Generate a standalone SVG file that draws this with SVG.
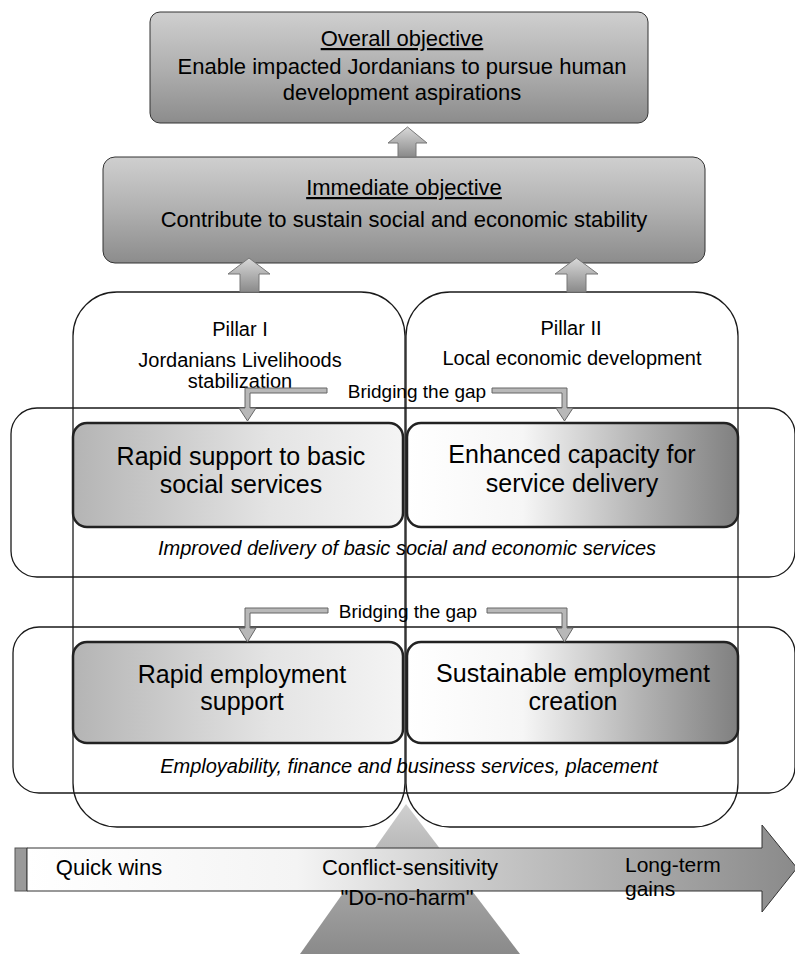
<svg xmlns="http://www.w3.org/2000/svg" width="795" height="954" viewBox="0 0 795 954">
<defs>
<linearGradient id="gObj" x1="0" y1="0" x2="0" y2="1">
<stop offset="0" stop-color="#cfcfcf"/><stop offset="0.5" stop-color="#b0b0b0"/><stop offset="1" stop-color="#8c8c8c"/>
</linearGradient>
<linearGradient id="gLeft" x1="0" y1="0" x2="1" y2="0">
<stop offset="0" stop-color="#b4b4b4"/><stop offset="0.6" stop-color="#e4e4e4"/><stop offset="1" stop-color="#f4f4f4"/>
</linearGradient>
<linearGradient id="gRight" x1="0" y1="0" x2="1" y2="0">
<stop offset="0" stop-color="#ffffff"/><stop offset="0.35" stop-color="#f6f6f6"/><stop offset="0.7" stop-color="#b4b4b4"/><stop offset="1" stop-color="#808080"/>
</linearGradient>
<linearGradient id="gArrowUp" x1="0" y1="0" x2="0" y2="1">
<stop offset="0" stop-color="#d8d8d8"/><stop offset="1" stop-color="#8a8a8a"/>
</linearGradient>
<linearGradient id="gTime" x1="0" y1="0" x2="1" y2="0">
<stop offset="0" stop-color="#ffffff"/><stop offset="0.35" stop-color="#f4f4f4"/><stop offset="0.55" stop-color="#cfcfcf"/><stop offset="1" stop-color="#8a8a8a"/>
</linearGradient>
<linearGradient id="gTri" x1="0" y1="0" x2="0" y2="1">
<stop offset="0" stop-color="#d0d0d0"/><stop offset="0.5" stop-color="#a8a8a8"/><stop offset="1" stop-color="#8a8a8a"/>
</linearGradient>
</defs>
<style>
text{font-family:"Liberation Sans",Arial,sans-serif;fill:#000;text-anchor:middle}
.h{font-size:22px}
.u{text-decoration:underline}
.p{font-size:20px}
.b{font-size:25px}
.i{font-size:20px;font-style:italic}
.g{font-size:19px}
.t{font-size:22px}
.lt{font-size:21px;text-anchor:start}
.frame{fill:none;stroke:#1a1a1a;stroke-width:1.3}
.inner{stroke:#222;stroke-width:2.5}
.arr{fill:url(#gArrowUp);stroke:#777;stroke-width:1}
.br{fill:#b8b8b8;stroke:#666;stroke-width:1}
</style>

<g id="triangle">
<polygon points="406,804 300,954 520,954" fill="url(#gTri)"/>
</g>

<g id="timeline">
<rect x="15" y="848" width="12" height="43" fill="#9a9a9a" stroke="#555" stroke-width="1"/>
<path d="M27,848 L762,848 L762,825 L797,868 L762,912 L762,891 L27,891 Z" fill="url(#gTime)" stroke="#333" stroke-width="1"/>
<text class="t" x="109" y="875">Quick wins</text>
<text class="t" x="410" y="875">Conflict-sensitivity</text>
<text class="t" x="407" y="905">"Do-no-harm"</text>
<text class="lt" x="625" y="872">Long-term</text>
<text class="lt" x="625" y="896">gains</text>
</g>

<g id="overall-objective">
<rect x="150" y="12" width="498" height="111" rx="10" fill="url(#gObj)" stroke="#333" stroke-width="1"/>
<text class="h u" x="402" y="46">Overall objective</text>
<text class="h" x="402" y="74">Enable impacted Jordanians to pursue human</text>
<text class="h" x="402" y="100">development aspirations</text>
</g>

<g id="immediate-objective">
<rect x="103" y="157" width="602" height="106" rx="12" fill="url(#gObj)" stroke="#333" stroke-width="1"/>
<text class="h u" x="404" y="195">Immediate objective</text>
<text class="h" x="404" y="227">Contribute to sustain social and economic stability</text>
</g>

<g id="band-services">
<rect class="frame" x="11" y="408" width="784" height="169" rx="26"/>
</g>
<g id="band-employment">
<rect class="frame" x="13" y="627" width="782" height="166" rx="26"/>
</g>

<g id="pillar-1">
<rect class="frame" x="73" y="292" width="332" height="535" rx="44"/>
<text class="p" x="240" y="336">Pillar I</text>
<text class="p" x="240" y="367">Jordanians Livelihoods</text>
<text class="p" x="240" y="388">stabilization</text>
</g>
<g id="pillar-2">
<rect class="frame" x="406" y="292" width="332" height="535" rx="44"/>
<text class="p" x="571" y="335">Pillar II</text>
<text class="p" x="572" y="365">Local economic development</text>
</g>

<g id="rapid-support">
<rect class="inner" x="73" y="423" width="330" height="104" rx="14" fill="url(#gLeft)"/>
<text class="b" x="241" y="465">Rapid support to basic</text>
<text class="b" x="241" y="493">social services</text>
</g>
<g id="enhanced-capacity">
<rect class="inner" x="407" y="423" width="331" height="104" rx="14" fill="url(#gRight)"/>
<text class="b" x="572" y="463">Enhanced capacity for</text>
<text class="b" x="572" y="492">service delivery</text>
</g>
<text class="i" x="407" y="555">Improved delivery of basic social and economic services</text>

<g id="rapid-employment">
<rect class="inner" x="73" y="642" width="330" height="101" rx="14" fill="url(#gLeft)"/>
<text class="b" x="242" y="683">Rapid employment</text>
<text class="b" x="242" y="710">support</text>
</g>
<g id="sustainable-employment">
<rect class="inner" x="407" y="642" width="331" height="101" rx="14" fill="url(#gRight)"/>
<text class="b" x="573" y="682">Sustainable employment</text>
<text class="b" x="573" y="710">creation</text>
</g>
<text class="i" x="409" y="773">Employability, finance and business services, placement</text>

<g id="connectors">
<path class="arr" d="M398,157 L398,143 L388,143 L407.5,127 L427,143 L416,143 L416,157 Z"/>
<path class="arr" d="M240,292 L240,274 L228,274 L249,258 L270,274 L259,274 L259,292 Z"/>
<path class="arr" d="M567,292 L567,274 L555,274 L576.5,258 L598,274 L586,274 L586,292 Z"/>
<path class="br" d="M327,388 L245,388 L245,408 L239,408 L247.5,421 L256,408 L250,408 L250,393 L327,393 Z"/>
<path class="br" d="M492,388 L567,388 L567,408 L573,408 L564.5,421 L556,408 L562,408 L562,393 L492,393 Z"/>
<text class="g" x="417" y="398">Bridging the gap</text>
<path class="br" d="M328,608 L245,608 L245,628 L239,628 L247.5,642 L256,628 L250,628 L250,613 L328,613 Z"/>
<path class="br" d="M487,608 L567,608 L567,628 L573,628 L564.5,642 L556,628 L562,628 L562,613 L487,613 Z"/>
<text class="g" x="408" y="618">Bridging the gap</text>
</g>
</svg>
